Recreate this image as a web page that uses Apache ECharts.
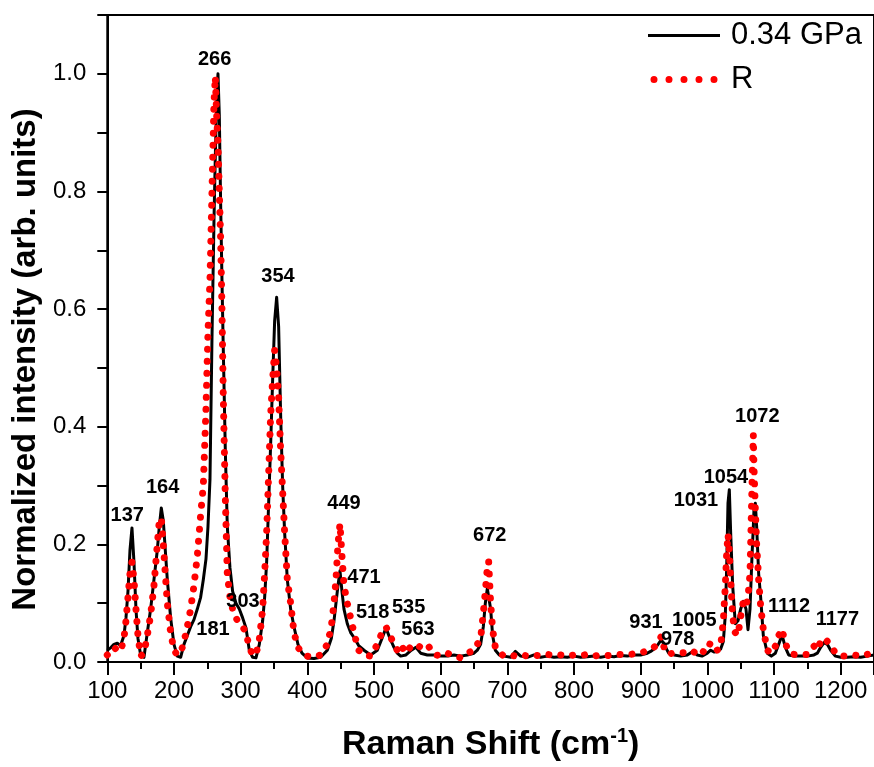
<!DOCTYPE html>
<html>
<head>
<meta charset="utf-8">
<script src="https://cdn.jsdelivr.net/npm/echarts@6/dist/echarts.min.js"></script>
<style>
html,body{margin:0;padding:0;background:#fff;}
#chart{width:874px;height:767px;}
</style>
</head>
<body>
<div id="chart"></div>
<script>
// Raman shift grid (cm-1)
var shift = [100,105,110,115,120,125,128,131,134,137,140,143,146,150,155,160,165,170,175,178,181,184,187,190,195,200,205,210,215,220,225,230,235,240,244,248,251,254,257,260,262,264,266,268,270,272,274,277,280,284,288,293,298,303,308,313,318,323,328,333,336,339,342,345,348,351,354,357,360,363,366,370,375,380,386,392,400,410,420,430,436,440,443,446,449,452,455,460,465,471,477,485,495,505,512,518,524,530,535,540,548,556,563,570,580,590,600,610,620,630,640,650,655,660,664,667,670,672,675,678,682,688,695,705,712,720,730,740,750,760,770,780,790,800,810,820,830,840,850,860,870,880,890,900,910,915,920,925,931,936,942,950,960,970,978,985,992,1000,1005,1010,1015,1020,1024,1027,1029,1031,1033,1035,1038,1042,1046,1050,1054,1058,1061,1064,1067,1069,1070,1072,1074,1077,1080,1084,1090,1096,1102,1107,1112,1117,1122,1130,1140,1150,1160,1165,1170,1175,1180,1185,1192,1200,1210,1220,1230,1240,1250];

// 0.34 GPa spectrum (black line)
var intensity034 = [0.02,0.024,0.03,0.032,0.028,0.045,0.075,0.12,0.19,0.228,0.17,0.09,0.04,0.012,0.008,0.05,0.09,0.14,0.19,0.23,0.262,0.24,0.19,0.14,0.075,0.03,0.01,0.008,0.03,0.045,0.06,0.072,0.09,0.11,0.14,0.175,0.23,0.31,0.55,0.75,0.86,0.95,1.0,0.93,0.78,0.65,0.53,0.36,0.23,0.16,0.12,0.1,0.09,0.075,0.058,0.02,0.008,0.007,0.03,0.07,0.11,0.17,0.27,0.37,0.48,0.58,0.62,0.57,0.42,0.3,0.22,0.14,0.09,0.06,0.03,0.015,0.007,0.006,0.008,0.02,0.04,0.07,0.1,0.13,0.155,0.12,0.09,0.065,0.05,0.04,0.028,0.02,0.012,0.02,0.04,0.058,0.04,0.025,0.015,0.01,0.012,0.02,0.025,0.015,0.012,0.012,0.01,0.01,0.012,0.01,0.012,0.015,0.02,0.03,0.06,0.1,0.125,0.128,0.09,0.045,0.02,0.012,0.01,0.008,0.018,0.01,0.008,0.012,0.008,0.01,0.008,0.009,0.008,0.01,0.008,0.009,0.01,0.008,0.01,0.009,0.011,0.01,0.012,0.012,0.015,0.018,0.022,0.028,0.038,0.028,0.015,0.012,0.01,0.012,0.018,0.012,0.01,0.015,0.02,0.017,0.018,0.022,0.035,0.08,0.16,0.27,0.293,0.22,0.13,0.065,0.07,0.09,0.103,0.09,0.055,0.09,0.18,0.23,0.26,0.27,0.23,0.15,0.11,0.045,0.015,0.01,0.015,0.03,0.046,0.025,0.012,0.01,0.01,0.01,0.012,0.015,0.025,0.033,0.03,0.02,0.01,0.008,0.008,0.009,0.008,0.01,0.012];

// R spectrum (red dots)
var intensityR = [0.012,0.018,0.025,0.02,0.018,0.04,0.07,0.11,0.15,0.17,0.14,0.09,0.045,0.01,0.015,0.045,0.08,0.13,0.2,0.24,0.245,0.2,0.15,0.1,0.05,0.02,0.012,0.015,0.035,0.06,0.09,0.13,0.18,0.25,0.3,0.43,0.56,0.65,0.8,0.95,0.995,0.93,0.88,0.8,0.72,0.6,0.45,0.28,0.15,0.11,0.09,0.075,0.065,0.06,0.05,0.025,0.012,0.012,0.038,0.09,0.15,0.22,0.32,0.42,0.48,0.53,0.5,0.45,0.36,0.29,0.22,0.14,0.1,0.05,0.025,0.015,0.01,0.008,0.012,0.03,0.06,0.1,0.14,0.2,0.235,0.18,0.13,0.1,0.075,0.045,0.02,0.012,0.01,0.03,0.05,0.06,0.045,0.03,0.02,0.03,0.015,0.028,0.03,0.025,0.03,0.013,0.01,0.015,0.01,0.007,0.015,0.02,0.03,0.04,0.083,0.12,0.16,0.171,0.1,0.055,0.025,0.016,0.01,0.012,0.01,0.013,0.01,0.012,0.01,0.013,0.011,0.012,0.01,0.012,0.011,0.013,0.01,0.012,0.011,0.012,0.013,0.012,0.014,0.015,0.02,0.021,0.025,0.03,0.044,0.02,0.013,0.016,0.016,0.015,0.019,0.012,0.013,0.032,0.03,0.032,0.02,0.027,0.07,0.13,0.185,0.217,0.19,0.14,0.077,0.05,0.045,0.077,0.103,0.095,0.11,0.15,0.3,0.386,0.33,0.26,0.2,0.14,0.095,0.055,0.02,0.015,0.027,0.045,0.056,0.032,0.018,0.013,0.012,0.013,0.027,0.02,0.035,0.041,0.035,0.03,0.015,0.01,0.01,0.012,0.01,0.013,0.018];

// Peak annotations
var peakLabels = ['137','164','181','266','303','354','449','471','518','535','563','672','931','978','1005','1031','1054','1072','1112','1177'];
var peakLabelX = [130,183,258.6,261,303.5,356,455,485,498,552,566,673.6,908,955.5,980.5,983,1028,1075,1122.6,1195];
var peakLabelY = [0.249,0.296,0.055,1.025,0.103,0.655,0.269,0.144,0.085,0.092,0.055,0.215,0.068,0.038,0.071,0.275,0.313,0.417,0.095,0.073];

var seriesNames = ['0.34 GPa', 'R'];

var FONT = 'Liberation Sans, Arial, Helvetica, sans-serif';
var chart = echarts.init(document.getElementById('chart'), null, {renderer: 'canvas'});

var blackData = shift.map(function (x, i) { return [x, intensity034[i]]; });
var redData = shift.map(function (x, i) { return [x, intensityR[i]]; });
var labelData = peakLabels.map(function (t, i) { return {name: t, value: [peakLabelX[i], peakLabelY[i]]}; });

var dotsIcon = 'path://M0,3.5a3.5,3.5 0 1,0 7,0a3.5,3.5 0 1,0 -7,0z' +
  'M15,3.5a3.5,3.5 0 1,0 7,0a3.5,3.5 0 1,0 -7,0z' +
  'M30,3.5a3.5,3.5 0 1,0 7,0a3.5,3.5 0 1,0 -7,0z' +
  'M45,3.5a3.5,3.5 0 1,0 7,0a3.5,3.5 0 1,0 -7,0z' +
  'M60,3.5a3.5,3.5 0 1,0 7,0a3.5,3.5 0 1,0 -7,0z';
var lineIcon = 'path://M0,0h72v3h-72z';

chart.setOption({
  animation: false,
  backgroundColor: '#fff',
  grid: {left: 107.3, right: -1.1, top: 15, bottom: 104, show: true, borderColor: '#000', borderWidth: 2, backgroundColor: 'transparent'},
  legend: {
    orient: 'vertical',
    left: 648, top: 18, padding: 0,
    itemWidth: 72, itemHeight: 7, itemGap: 9,
    symbolKeepAspect: true,
    data: [
      {name: seriesNames[0], icon: lineIcon, itemStyle: {color: '#000', borderWidth: 0}},
      {name: seriesNames[1], icon: dotsIcon, itemStyle: {color: '#ff0000', borderWidth: 0}}
    ],
    textStyle: {fontFamily: FONT, fontSize: 31, color: '#000', lineHeight: 35, padding: [0, 0, 0, 6]}
  },
  xAxis: {
    type: 'value', min: 100, max: 1250, interval: 100,
    name: '{a|Raman Shift (cm}{s|-1}{a|)}',
    nameLocation: 'middle', nameGap: 64,
    nameTextStyle: {
      rich: {
        a: {fontFamily: FONT, fontSize: 34, fontWeight: 'bold', color: '#000'},
        s: {fontFamily: FONT, fontSize: 20, fontWeight: 'bold', color: '#000', padding: [0, 0, 18, 0]}
      }
    },
    axisLine: {show: true, onZero: false, lineStyle: {color: '#000', width: 2}},
    axisTick: {show: true, inside: false, length: 13, lineStyle: {color: '#000', width: 2}},
    minorTick: {show: true, splitNumber: 2, length: 7, lineStyle: {color: '#000', width: 2}},
    axisLabel: {fontFamily: FONT, fontSize: 24, color: '#000', margin: 17, showMaxLabel: false,
      formatter: function (v) { return String(v); }},
    splitLine: {show: false}
  },
  yAxis: {
    type: 'value', min: 0, max: 1.1, interval: 0.2,
    name: 'Normalized intensity (arb. units)',
    nameLocation: 'middle', nameGap: 63,
    nameTextStyle: {fontFamily: FONT, fontSize: 33, fontWeight: 'bold', color: '#000', padding: [0, 42, 0, 0]},
    axisLine: {show: true, onZero: false, lineStyle: {color: '#000', width: 2}},
    axisTick: {show: true, inside: false, length: 10, lineStyle: {color: '#000', width: 2}},
    minorTick: {show: true, splitNumber: 2, length: 10, lineStyle: {color: '#000', width: 2}},
    axisLabel: {fontFamily: FONT, fontSize: 24, color: '#000', margin: 21, showMaxLabel: false,
      formatter: function (v) { return v.toFixed(1); }},
    splitLine: {show: false}
  },
  series: [
    {
      name: seriesNames[0], type: 'line', data: blackData,
      symbol: 'none', showSymbol: false, smooth: false,
      color: '#000',
      lineStyle: {color: '#000', width: 3, join: 'round'},
      z: 2
    },
    {
      name: seriesNames[1], type: 'line', data: redData,
      symbol: 'none', showSymbol: false, smooth: false,
      color: '#ff0000',
      lineStyle: {color: '#ff0000', width: 7, type: [0.01, 12], cap: 'round', join: 'round'},
      z: 3
    },
    {
      name: 'labels', type: 'scatter', data: labelData,
      symbolSize: 0, silent: true,
      itemStyle: {color: '#000', opacity: 1},
      label: {show: true, position: 'inside', formatter: '{b}', fontFamily: FONT, fontSize: 20, fontWeight: 'bold',
        color: '#000', opacity: 1, textBorderWidth: 0, textBorderColor: 'transparent'},
      z: 5
    }
  ]
});
</script>
</body>
</html>
